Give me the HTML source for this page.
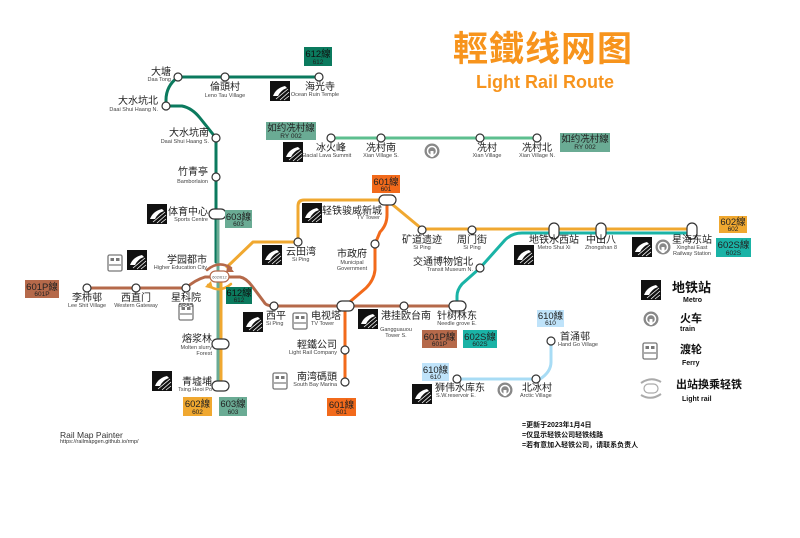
<!DOCTYPE html>
<html><head><meta charset="utf-8"><style>
html,body{margin:0;padding:0;background:#fff}
svg{display:block}
text{font-family:"Liberation Sans","Noto Sans CJK SC",sans-serif}
.cn{font-size:10px;fill:#222}
.en{font-size:5.5px;fill:#444}
.lt{font-size:9.5px;fill:#222}
.ls{font-size:6.5px;fill:#222}
.st{fill:#fff;stroke:#333;stroke-width:1.2}
</style></head><body>
<svg width="800" height="538" viewBox="0 0 800 538" xmlns="http://www.w3.org/2000/svg">
<defs>
<g id="m"><rect width="20" height="20" fill="#111"/><path d="M3 15 Q6 7 15 5 L17 7 Q11 9 8 15 Z" fill="#fff"/><path d="M6 18 L18 8 M10 19 L19 11 M14 19 L19 15" stroke="#fff" stroke-width="0.8"/></g>
<g id="f"><rect x="0" y="0" width="14" height="16" rx="1.5" fill="#fff" stroke="#777" stroke-width="1.3"/><rect x="2.5" y="3" width="3.5" height="3" fill="#777"/><rect x="8" y="3" width="3.5" height="3" fill="#777"/><line x1="1" y1="10" x2="13" y2="10" stroke="#777" stroke-width="1.2"/></g>
<g id="t"><circle r="7.5" fill="#888"/><circle r="4.5" fill="none" stroke="#fff" stroke-width="1.5"/><rect x="-1.5" y="0" width="3" height="6" fill="#fff"/></g>
</defs>

<!-- title -->
<text x="543" y="61" text-anchor="middle" style="font-size:35px;font-weight:bold;fill:#f7941d;letter-spacing:1px">輕鐵线网图</text>
<text x="545" y="88" text-anchor="middle" style="font-size:18px;font-weight:bold;fill:#f7941d">Light Rail Route</text>

<g fill="none" stroke-linecap="round" stroke-linejoin="round">
<path d="M331 138 H537" stroke="#5dbf8f" stroke-width="3"/>
<path d="M319 77 H178 Q166 86 166 100 V106 H182 Q192 108 200 118 L216 138 V262" stroke="#0b7a5e" stroke-width="3"/>
<path d="M218 214 V386" stroke="#6aab94" stroke-width="3"/>
<path d="M221 386 V282 M227 267 L253 242 H298 V206 Q298 200 304 200 H387 L422 229 H692" stroke="#f0a830" stroke-width="3"/>
<path d="M457 306 V296 Q457 290 462 284 L480 268 L505 240 Q512 233 522 233 H692" stroke="#1ab3a6" stroke-width="3"/>
<path d="M387 200 V215 Q387 225 380 232 L375 244 V270 Q374 280 366 288 L345 306 V382" stroke="#f26a1b" stroke-width="3"/>
<path d="M87 288 H186 Q195 280 205 277 H211 M229 277 H240 Q246 278 252 286 L264 302 Q266 306 274 306 H457" stroke="#b5694a" stroke-width="3"/>
<path d="M551 341 V362 Q551 372 540 379 H457" stroke="#a8dcf5" stroke-width="3"/>
<path d="M207 270 Q219 260 231 268" stroke="#b5694a" stroke-width="2.5"/>
<path d="M231 284 Q219 294 208 285" stroke="#f0a830" stroke-width="2.5"/>
</g>
<path d="M228 264 L234 272 L226 272 Z" fill="#b5694a"/>
<path d="M211 281 L205 287 L213 289 Z" fill="#f0a830"/>

<g class="st">
<circle cx="178" cy="77" r="4"/><circle cx="225" cy="77" r="4"/><circle cx="319" cy="77" r="4"/>
<circle cx="166" cy="106" r="4"/><circle cx="216" cy="138" r="4"/><circle cx="216" cy="177" r="4"/>
<rect x="209" y="209" width="17" height="10" rx="5"/>
<circle cx="87" cy="288" r="4"/><circle cx="136" cy="288" r="4"/><circle cx="186" cy="288" r="4"/>
<rect x="212" y="339" width="17" height="10" rx="5"/><rect x="212" y="381" width="17" height="10" rx="5"/>
<circle cx="298" cy="242" r="4"/><rect x="379" y="195" width="17" height="10" rx="5"/>
<circle cx="375" cy="244" r="4"/><circle cx="274" cy="306" r="4"/>
<rect x="337" y="301" width="17" height="10" rx="5"/><circle cx="345" cy="350" r="4"/><circle cx="345" cy="382" r="4"/>
<circle cx="404" cy="306" r="4"/><rect x="449" y="301" width="17" height="10" rx="5"/>
<circle cx="422" cy="230" r="4"/><circle cx="472" cy="230" r="4"/><circle cx="480" cy="268" r="4"/>
<rect x="549" y="223" width="10" height="16" rx="5"/><rect x="596" y="223" width="10" height="16" rx="5"/><rect x="687" y="223" width="10" height="16" rx="5"/>
<circle cx="331" cy="138" r="4"/><circle cx="381" cy="138" r="4"/><circle cx="480" cy="138" r="4"/><circle cx="537" cy="138" r="4"/>
<circle cx="457" cy="379" r="4"/><circle cx="536" cy="379" r="4"/><circle cx="551" cy="341" r="4"/>
</g>
<rect x="210" y="271" width="19" height="11" rx="5.5" fill="#fff" stroke="#b5694a" stroke-width="1.2"/>
<text x="219.5" y="278.5" text-anchor="middle" style="font-size:4px;fill:#555">602/612</text>

<g>
<rect x="304" y="47" width="28" height="19" fill="#0b7a5e"/><text x="318" y="57" text-anchor="middle" class="lt" style="fill:#111">612線</text><text x="318" y="64" text-anchor="middle" class="ls">612</text>
<rect x="266" y="122" width="50" height="18" fill="#6aab94"/><text x="291" y="131" text-anchor="middle" class="lt">如约冼村線</text><text x="291" y="138" text-anchor="middle" class="ls">RY 002</text>
<rect x="560" y="133" width="50" height="19" fill="#6aab94"/><text x="585" y="142" text-anchor="middle" class="lt">如约冼村線</text><text x="585" y="149" text-anchor="middle" class="ls">RY 002</text>
<rect x="225" y="210" width="27" height="18" fill="#6aab94"/><text x="238.5" y="220" text-anchor="middle" class="lt">603線</text><text x="238.5" y="226" text-anchor="middle" class="ls">603</text>
<rect x="372" y="175" width="28" height="18" fill="#f26a1b"/><text x="386" y="185" text-anchor="middle" class="lt">601線</text><text x="386" y="191" text-anchor="middle" class="ls">601</text>
<rect x="25" y="280" width="34" height="18" fill="#b5694a"/><text x="42" y="290" text-anchor="middle" class="lt">601P線</text><text x="42" y="296" text-anchor="middle" class="ls">601P</text>
<rect x="226" y="287" width="26" height="17" fill="#0b7a5e"/><text x="239" y="296" text-anchor="middle" class="lt" style="fill:#111">612線</text><text x="239" y="302" text-anchor="middle" class="ls">612</text>
<rect x="183" y="397" width="29" height="19" fill="#f0a830"/><text x="197.5" y="407" text-anchor="middle" class="lt">602線</text><text x="197.5" y="414" text-anchor="middle" class="ls">602</text>
<rect x="219" y="397" width="28" height="19" fill="#6aab94"/><text x="233" y="407" text-anchor="middle" class="lt">603線</text><text x="233" y="414" text-anchor="middle" class="ls">603</text>
<rect x="327" y="398" width="29" height="18" fill="#f26a1b"/><text x="341.5" y="408" text-anchor="middle" class="lt">601線</text><text x="341.5" y="414" text-anchor="middle" class="ls">601</text>
<rect x="422" y="330" width="35" height="18" fill="#b5694a"/><text x="439.5" y="340" text-anchor="middle" class="lt">601P線</text><text x="439.5" y="346" text-anchor="middle" class="ls">601P</text>
<rect x="463" y="330" width="34" height="18" fill="#1ab3a6"/><text x="480" y="340" text-anchor="middle" class="lt">602S線</text><text x="480" y="346" text-anchor="middle" class="ls">602S</text>
<rect x="537" y="310" width="27" height="17" fill="#bfe3fa"/><text x="550.5" y="319" text-anchor="middle" class="lt">610線</text><text x="550.5" y="325" text-anchor="middle" class="ls">610</text>
<rect x="422" y="363" width="27" height="18" fill="#bfe3fa"/><text x="435.5" y="373" text-anchor="middle" class="lt">610線</text><text x="435.5" y="379" text-anchor="middle" class="ls">610</text>
<rect x="719" y="216" width="28" height="17" fill="#f0a830"/><text x="733" y="225" text-anchor="middle" class="lt">602線</text><text x="733" y="231" text-anchor="middle" class="ls">602</text>
<rect x="716" y="238" width="35" height="19" fill="#1ab3a6"/><text x="733.5" y="248" text-anchor="middle" class="lt">602S線</text><text x="733.5" y="255" text-anchor="middle" class="ls">602S</text>
</g>

<use href="#m" x="270" y="81"/><use href="#m" x="283" y="142"/><use href="#m" x="147" y="204"/>
<use href="#f" x="108" y="255"/><use href="#m" x="127" y="250"/><use href="#f" x="179" y="304"/>
<use href="#m" x="152" y="371"/><use href="#m" x="262" y="245"/><use href="#m" x="302" y="203"/>
<use href="#m" x="243" y="312"/><use href="#f" x="293" y="313"/><use href="#f" x="273" y="373"/>
<use href="#m" x="358" y="309"/><use href="#m" x="514" y="245"/><use href="#m" x="632" y="237"/>
<use href="#m" x="412" y="384"/><use href="#t" x="663" y="247"/><use href="#t" x="432" y="151"/><use href="#t" x="505" y="390"/>

<g text-anchor="end">
<text x="171" y="75" class="cn">大塘</text><text x="171" y="81" class="en">Daa Tong</text>
<text x="158" y="104" class="cn">大水坑北</text><text x="158" y="111" class="en">Daai Shui Haang N.</text>
<text x="209" y="136" class="cn">大水坑南</text><text x="209" y="143" class="en">Daai Shui Haang S.</text>
<text x="208" y="175" class="cn">竹青亭</text><text x="208" y="183" class="en">Bamborlaion</text>
<text x="208" y="215" class="cn">体育中心</text><text x="208" y="221" class="en">Sports Centre</text>
<text x="207" y="263" class="cn">学园都市</text><text x="207" y="269" class="en">Higher Education City</text>
<text x="212" y="342" class="cn">熔浆林</text><text x="212" y="349" class="en">Molten slurry</text><text x="212" y="355" class="en">Forest</text>
<text x="212" y="385" class="cn">青墟埔</text><text x="212" y="391" class="en">Tsing Heoi Po</text>
<text x="337" y="348" class="cn">輕鐵公司</text><text x="337" y="354" class="en">Light Rail Company</text>
<text x="337" y="380" class="cn">南湾碼頭</text><text x="337" y="386" class="en">South Bay Marina</text>
<text x="380" y="219" class="en">TV Tower</text>
<text x="473" y="265" class="cn">交通博物馆北</text><text x="473" y="271" class="en">Transit Museum N.</text>
</g>
<g text-anchor="middle">
<text x="225" y="90" class="cn">倫頭村</text><text x="225" y="97" class="en">Leno Tau Village</text>
<text x="87" y="301" class="cn">李柿邨</text><text x="87" y="307" class="en">Lee Shit Village</text>
<text x="136" y="301" class="cn">西直门</text><text x="136" y="307" class="en">Western Gateway</text>
<text x="186" y="301" class="cn">星科院</text><text x="186" y="307" class="en">SRAS</text>
<text x="352" y="257" class="cn">市政府</text><text x="352" y="264" class="en">Municipal</text><text x="352" y="270" class="en">Government</text>
<text x="396" y="331" class="en">Gangguauou</text><text x="396" y="337" class="en">Tower S.</text>
<text x="457" y="319" class="cn">针树林东</text><text x="457" y="325" class="en">Needle grove E.</text>
<text x="422" y="243" class="cn">矿道遗迹</text><text x="422" y="249" class="en">Si Ping</text>
<text x="472" y="243" class="cn">周门街</text><text x="472" y="249" class="en">Si Ping</text>
<text x="554" y="243" class="cn">地铁水西站</text><text x="554" y="249" class="en">Metro Shui Xi</text>
<text x="601" y="243" class="cn">中山八</text><text x="601" y="249" class="en">Zhongshan 8</text>
<text x="692" y="243" class="cn">星海东站</text><text x="692" y="249" class="en">Xinghai East</text><text x="692" y="255" class="en">Railway Station</text>
<text x="381" y="151" class="cn">冼村南</text><text x="381" y="157" class="en">Xian Village S.</text>
<text x="487" y="151" class="cn">冼村</text><text x="487" y="157" class="en">Xian Village</text>
<text x="537" y="151" class="cn">冼村北</text><text x="537" y="157" class="en">Xian Village N.</text>
<text x="326" y="157" class="en">Glacial Lava Summit</text>
<text x="315" y="96" class="en">Ocean Ruin Temple</text>
</g>
<g>
<text x="305" y="90" class="cn">海光寺</text>
<text x="316" y="151" class="cn">冰火峰</text>
<text x="286" y="255" class="cn">云田湾</text><text x="292" y="261" class="en">Si Ping</text>
<text x="322" y="214" class="cn">轻铁骏威新城</text>
<text x="266" y="319" class="cn">西平</text><text x="266" y="325" class="en">Si Ping</text>
<text x="311" y="319" class="cn">电视塔</text><text x="311" y="325" class="en">TV Tower</text>
<text x="381" y="319" class="cn">港挂欧台南</text>
<text x="435" y="391" class="cn">狮伟水库东</text><text x="436" y="397" class="en">S.W.reservoir E.</text>
<text x="522" y="391" class="cn">北冰村</text><text x="520" y="397" class="en">Arctic Village</text>
<text x="560" y="340" class="cn">首涌邨</text><text x="558" y="346" class="en">Hand Go Village</text>
</g>

<use href="#m" x="641" y="280"/>
<text x="672" y="292" style="font-size:13px;font-weight:bold;fill:#111">地铁站</text>
<text x="683" y="302" style="font-size:7px;font-weight:bold;fill:#111">Metro</text>
<use href="#t" x="651" y="319"/>
<text x="680" y="322" style="font-size:11px;font-weight:bold;fill:#111">火车</text>
<text x="680" y="331" style="font-size:7px;font-weight:bold;fill:#111">train</text>
<use href="#f" x="643" y="343"/>
<text x="680" y="353" style="font-size:11px;font-weight:bold;fill:#111">渡轮</text>
<text x="682" y="365" style="font-size:7px;font-weight:bold;fill:#111">Ferry</text>
<g fill="none" stroke="#aaa" stroke-width="2"><path d="M641 383 Q651 376 661 382"/><path d="M661 394 Q651 401 641 395"/></g>
<rect x="644" y="384" width="14" height="9" rx="4.5" fill="#fff" stroke="#aaa" stroke-width="1.2"/>
<text x="676" y="388" style="font-size:11px;font-weight:bold;fill:#111">出站换乘轻铁</text>
<text x="682" y="401" style="font-size:7px;font-weight:bold;fill:#111">Light rail</text>

<text x="522" y="427" style="font-size:7px;font-weight:bold;fill:#111">=更新于2023年1月4日</text>
<text x="522" y="437" style="font-size:7px;font-weight:bold;fill:#111">=仅显示轻铁公司轻铁线路</text>
<text x="522" y="447" style="font-size:7px;font-weight:bold;fill:#111">=若有意加入轻铁公司，请联系负责人</text>
<text x="60" y="438" style="font-size:8.5px;fill:#333">Rail Map Painter</text>
<text x="60" y="443" style="font-size:5.5px;fill:#333">https://railmapgen.github.io/rmp/</text>
</svg>
</body></html>
